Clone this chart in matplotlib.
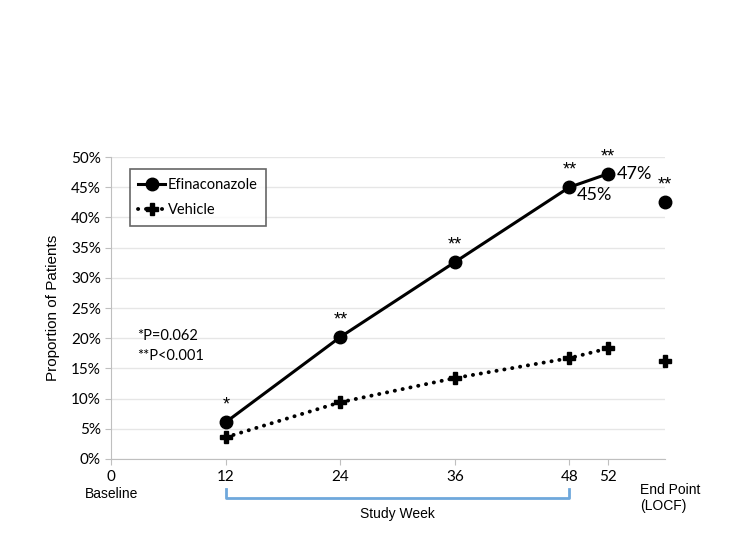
import numpy as np
import matplotlib
matplotlib.use("Agg")
import matplotlib.pyplot as plt
from matplotlib.ticker import FuncFormatter

# study weeks, end point (LOCF) is drawn at x = 58
weeks = [12, 24, 36, 48, 52]
end_x = 58
efina = [6.1, 20.2, 32.6, 45.0, 47.2]
efina_end = 42.6
vehicle = [3.6, 9.4, 13.4, 16.7, 18.3]
vehicle_end = 16.2
# significance markers above the efinaconazole points
stars = ["*", "**", "**", "**", "**"]
tick_pos = [0, 12, 24, 36, 48, 52]
tick_lab = ["0", "12", "24", "36", "48", "52"]

plt.rcParams['font.family'] = ['Lato', 'DejaVu Sans']

fig = plt.figure(figsize=(7.37, 5.53), dpi=100)
ax = fig.add_axes([0.151, 0.170, 0.751, 0.546])

ax.plot(weeks, efina, color="black", lw=2.2, marker="o", ms=9, label="Efinaconazole", zorder=3)
ax.plot(weeks, vehicle, color="black", lw=2.8, ls=(0, (0.05, 2.0)), dash_capstyle="round",
        marker="P", ms=9, label="Vehicle", zorder=3)
ax.plot([end_x], [efina_end], color="black", marker="o", ms=9, ls="none", zorder=3, clip_on=False)
ax.plot([end_x], [vehicle_end], color="black", marker="P", ms=9, ls="none", zorder=3, clip_on=False)

for x, y, s in zip(weeks + [end_x], efina + [efina_end], stars + ["**"]):
    ax.text(x, y + 1.4, s, ha="center", va="bottom", fontsize=13, family="Liberation Sans")

ax.text(48.8, 45.0, "45%", ha="left", va="top", fontsize=13)
ax.text(53.0, 47.2, "47%", ha="left", va="center", fontsize=13)

ax.text(2.7, 21.5, "*P=0.062\n**P<0.001", ha="left", va="top", fontsize=10.5, linespacing=1.5)

ax.set_xlim(0, end_x)
ax.set_ylim(0, 50)
ax.set_yticks(np.arange(0, 51, 5))
ax.yaxis.set_major_formatter(FuncFormatter(lambda v, p: "%d%%" % v))
ax.set_xticks(tick_pos)
ax.set_xticklabels(tick_lab)
ax.grid(axis="y", color="#e6e6e6", lw=1)
ax.set_axisbelow(True)
for side in ["top", "right"]:
    ax.spines[side].set_visible(False)
for side in ["left", "bottom"]:
    ax.spines[side].set_color("#bfbfbf")
ax.tick_params(axis="both", colors="#bfbfbf", labelcolor="black", labelsize=11, length=4)
ax.tick_params(axis="x", pad=4)
ax.set_ylabel("Proportion of Patients", fontsize=11, family="Liberation Sans", labelpad=8)

leg = ax.legend(loc="upper left", bbox_to_anchor=(0.02, 0.985), fontsize=10.5, frameon=True,
                fancybox=False, edgecolor="#404040", handlelength=1.8, handletextpad=0.2,
                borderpad=0.6, labelspacing=0.8)
leg.get_frame().set_linewidth(1.2)

# labels and bracket below the axis
tr = ax.get_xaxis_transform()
ax.text(0, -0.115, "Baseline", transform=tr, ha="center", va="center", fontsize=10, family="Liberation Sans")
ax.text(55.4, -0.13, "End Point\n(LOCF)", transform=tr, ha="left", va="center", fontsize=10,
        family="Liberation Sans", linespacing=1.2)
ax.plot([12, 12, 48, 48], [-0.098, -0.128, -0.128, -0.098], transform=tr, color="#6fa8dc", lw=2,
        clip_on=False)
ax.text(30, -0.182, "Study Week", transform=tr, ha="center", va="center", fontsize=10, family="Liberation Sans")

fig.savefig("out.png", dpi=100)
